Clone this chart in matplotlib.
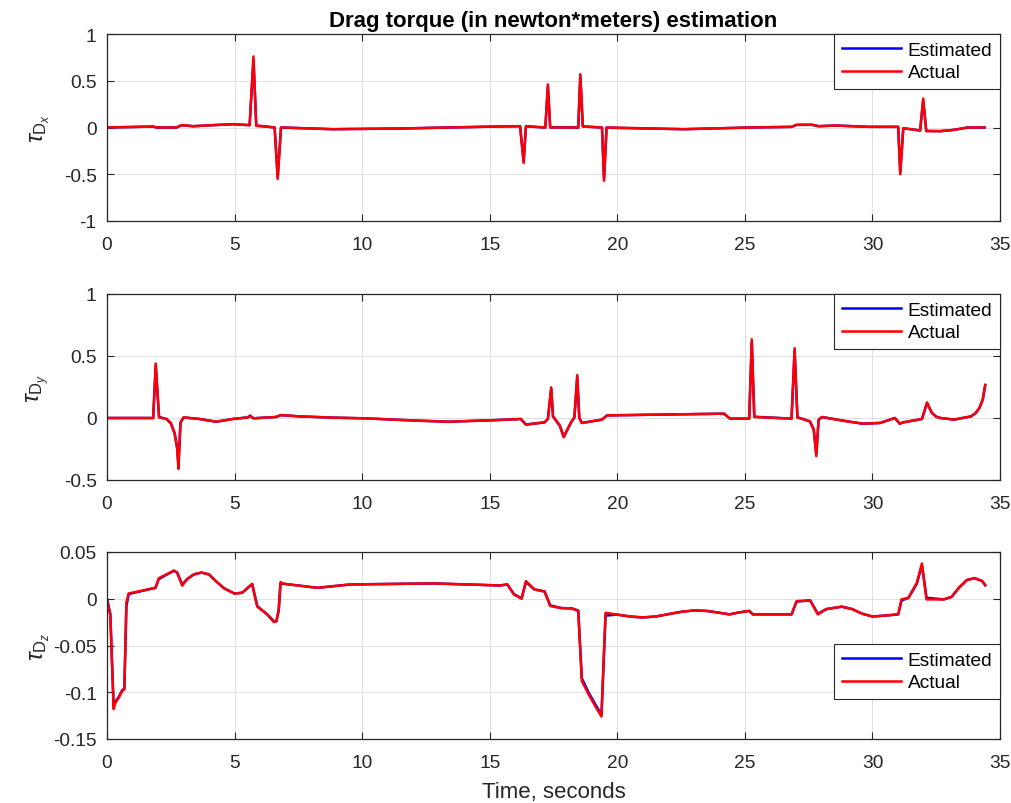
import matplotlib
matplotlib.use("Agg")
import matplotlib.pyplot as plt
from matplotlib.ticker import FuncFormatter, MultipleLocator

plt.rcParams['font.family'] = ['Liberation Sans', 'DejaVu Sans']
plt.rcParams['axes.unicode_minus'] = False
plt.rcParams['mathtext.fontset'] = 'custom'
plt.rcParams['mathtext.rm'] = 'Liberation Sans'
plt.rcParams['mathtext.it'] = 'Liberation Sans:italic'

# ---------------- data ----------------
# tau_Dx
tx = [0, 1.81, 1.94, 2.72, 2.92, 3.38, 4.15, 4.94, 5.59, 5.74, 5.85, 6.24, 6.57, 6.69, 6.82,
      8.85, 11.45, 15.35, 16.19, 16.33, 16.42, 17.18, 17.28, 17.37, 18.47, 18.55, 18.65,
      19.40, 19.48, 19.58, 22.59, 25.24, 26.83, 27.03, 27.63, 27.89, 28.55, 29.88, 31.01,
      31.09, 31.21, 31.87, 31.99, 32.11, 32.67, 33.20, 33.73, 34.39]
x_actual = [0, 0.01, 0, 0, 0.025, 0.014, 0.025, 0.036, 0.025, 0.76, 0.018, 0.01, 0, -0.55, 0,
            -0.018, -0.011, 0.011, 0.014, -0.38, 0.014, 0, 0.46, 0, 0, 0.57, 0.01,
            0, -0.57, 0, -0.018, 0, 0.007, 0.029, 0.029, 0.014, 0.021, 0.007, 0.007,
            -0.5, -0.007, -0.032, 0.31, -0.039, -0.039, -0.025, 0, 0]
x_estimated = [0, 0.01, 0, 0, 0.024, 0.014, 0.025, 0.035, 0.025, 0.72, 0.02, 0.01, 0, -0.53, 0,
               -0.018, -0.011, 0.011, 0.014, -0.36, 0.012, 0, 0.44, 0.002, 0, 0.55, 0.012,
               0, -0.55, -0.002, -0.018, 0, 0.007, 0.028, 0.029, 0.014, 0.021, 0.007, 0.007,
               -0.48, -0.008, -0.032, 0.29, -0.036, -0.039, -0.025, 0, 0]

# tau_Dy
ty = [0, 1.81, 1.91, 2.04, 2.33, 2.50, 2.65, 2.75, 2.80, 2.88, 3.00, 3.63, 4.28, 4.93, 5.52,
      5.61, 5.74, 6.62, 6.82, 7.54, 8.85, 10.16, 12.10, 13.40, 15.35, 16.22, 16.42, 17.15,
      17.28, 17.41, 17.48, 17.60, 17.75, 17.90, 18.05, 18.20, 18.32, 18.43, 18.51, 18.61,
      19.40, 19.60, 24.18, 24.42, 25.17, 25.27, 25.37, 26.83, 26.95, 27.06, 27.30, 27.55,
      27.70, 27.80, 27.89, 28.02, 28.80, 29.62, 30.30, 30.88, 31.07, 31.21, 31.94, 32.14,
      32.33, 32.50, 32.67, 33.20, 33.86, 34.05, 34.19, 34.32, 34.42]
y_actual = [0, 0, 0.44, 0.005, -0.008, -0.04, -0.12, -0.25, -0.41, -0.035, 0.005, -0.008, -0.03,
            -0.008, 0.005, 0.019, -0.003, 0.008, 0.024, 0.013, 0.003, -0.003, -0.021, -0.03,
            -0.016, -0.008, -0.054, -0.035, -0.008, 0.247, 0.013, -0.02, -0.06, -0.155, -0.09,
            -0.03, 0.005, 0.346, 0, -0.04, -0.013, 0.021, 0.035, -0.005, -0.005, 0.635, 0.008,
            -0.005, 0.563, 0.003, -0.01, -0.027, -0.09, -0.308, -0.013, 0.008, -0.02, -0.046,
            -0.04, 0, -0.046, -0.035, -0.008, 0.126, 0.04, 0.01, 0, -0.013, 0.013, 0.04, 0.08,
            0.147, 0.268]
y_estimated = [0, 0, 0.42, 0.008, -0.008, -0.042, -0.125, -0.24, -0.38, -0.04, 0.004, -0.008,
               -0.03, -0.008, 0.005, 0.018, -0.002, 0.008, 0.023, 0.013, 0.003, -0.003, -0.021,
               -0.03, -0.016, -0.008, -0.052, -0.035, -0.008, 0.235, 0.015, -0.022, -0.065,
               -0.15, -0.092, -0.032, 0.004, 0.33, 0.004, -0.04, -0.013, 0.021, 0.035, -0.005,
               -0.005, 0.61, 0.01, -0.005, 0.54, 0.006, -0.01, -0.028, -0.095, -0.29, -0.016,
               0.008, -0.02, -0.046, -0.04, 0, -0.046, -0.035, -0.008, 0.12, 0.042, 0.01, 0,
               -0.013, 0.013, 0.04, 0.08, 0.145, 0.262]

# tau_Dz
tz = [0, 0.13, 0.26, 0.33, 0.46, 0.59, 0.68, 0.76, 0.85, 1.90, 2.03, 2.62, 2.75, 2.95, 3.14,
      3.40, 3.70, 4.00, 4.30, 4.60, 5.00, 5.30, 5.69, 5.82, 5.89, 6.28, 6.54, 6.64, 6.73, 6.80,
      6.93, 8.24, 9.54, 12.80, 15.40, 15.69, 15.95, 16.25, 16.42, 16.75, 17.15, 17.37, 17.81,
      18.21, 18.47, 18.61, 18.87, 19.14, 19.38, 19.54, 20.00, 20.50, 21.00, 21.50, 22.00,
      22.50, 23.00, 23.50, 24.00, 24.40, 24.80, 25.17, 25.31, 26.83, 27.03, 27.56, 27.86,
      28.20, 28.80, 29.20, 29.60, 30.00, 30.50, 31.01, 31.14, 31.41, 31.74, 31.94, 32.12,
      32.80, 33.10, 33.40, 33.70, 34.00, 34.30, 34.42]
z_actual = [0, -0.0185, -0.118, -0.111, -0.106, -0.099, -0.097, -0.004, 0.0057, 0.0117, 0.022,
            0.030, 0.028, 0.014, 0.021, 0.026, 0.028, 0.026, 0.018, 0.011, 0.0055, 0.0065,
            0.016, -0.0007, -0.0085, -0.0167, -0.025, -0.024, -0.011, 0.0178, 0.016, 0.0117,
            0.0153, 0.0164, 0.0142, 0.0153, 0.0046, 0, 0.0189, 0.010, 0.0078, -0.0078, -0.010,
            -0.0103, -0.0132, -0.088, -0.102, -0.115, -0.126, -0.015, -0.017, -0.019, -0.020,
            -0.019, -0.0165, -0.014, -0.0125, -0.013, -0.015, -0.0167, -0.0145, -0.013,
            -0.0167, -0.0167, -0.0025, -0.0018, -0.0167, -0.011, -0.0085, -0.011, -0.016,
            -0.019, -0.018, -0.0167, -0.0007, 0.001, 0.017, 0.0377, -0.0007, -0.0007, 0.002,
            0.012, 0.020, 0.022, 0.019, 0.0145]
z_estimated = [0, -0.016, -0.115, -0.110, -0.105, -0.098, -0.096, -0.008, 0.005, 0.0117, 0.021,
               0.030, 0.028, 0.015, 0.021, 0.026, 0.028, 0.026, 0.018, 0.011, 0.0055, 0.0065,
               0.0155, 0.0005, -0.008, -0.0167, -0.024, -0.024, -0.013, 0.016, 0.016, 0.0117,
               0.0153, 0.0164, 0.0142, 0.0153, 0.005, 0.0005, 0.018, 0.010, 0.0078, -0.007,
               -0.010, -0.0103, -0.0125, -0.085, -0.100, -0.113, -0.124, -0.018, -0.017,
               -0.019, -0.020, -0.019, -0.0165, -0.014, -0.0125, -0.013, -0.015, -0.0167,
               -0.0145, -0.013, -0.0167, -0.0167, -0.003, -0.0018, -0.016, -0.011, -0.0085,
               -0.011, -0.016, -0.019, -0.018, -0.0167, -0.002, 0.001, 0.016, 0.036, 0.001,
               -0.0007, 0.002, 0.012, 0.020, 0.022, 0.019, 0.0145]

series_labels = ['Estimated', 'Actual']
ylabels = [r'$\tau_{\mathrm{D}_x}$', r'$\tau_{\mathrm{D}_y}$', r'$\tau_{\mathrm{D}_z}$']
title = 'Drag torque (in newton*meters) estimation'
xlabel = 'Time, seconds'

assert len(tx) == len(x_actual) == len(x_estimated)
assert len(ty) == len(y_actual) == len(y_estimated)
assert len(tz) == len(z_actual) == len(z_estimated)

# ---------------- plot ----------------
W, H = 1012, 804
fig = plt.figure(figsize=(W / 100, H / 100), dpi=100)

def rect(top, bottom, left=107, right=1000):
    return [left / W, 1 - bottom / H, (right - left) / W, (bottom - top) / H]

axes = [fig.add_axes(rect(35, 222)), fig.add_axes(rect(295, 481)), fig.add_axes(rect(553, 740))]
data = [(tx, x_estimated, x_actual), (ty, y_estimated, y_actual), (tz, z_estimated, z_actual)]
ylims = [(-1, 1), (-0.5, 1), (-0.15, 0.05)]
ysteps = [0.5, 0.5, 0.05]
spine_c = '#262626'
FS = 13.8

for i, ax in enumerate(axes):
    t, est, act = data[i]
    ax.plot(t, est, color='#0000ff', lw=1.8, label=series_labels[0])
    ax.plot(t, act, color='#ff0000', lw=1.8, label=series_labels[1])
    ax.set_xlim(0, 35)
    ax.set_ylim(*ylims[i])
    ax.xaxis.set_major_locator(MultipleLocator(5))
    ax.yaxis.set_major_locator(MultipleLocator(ysteps[i]))
    fmt = FuncFormatter(lambda v, p: f'{round(v, 6):g}')
    ax.xaxis.set_major_formatter(fmt)
    ax.yaxis.set_major_formatter(fmt)
    ax.grid(True, color='#e0e0e0', lw=0.7)
    ax.set_axisbelow(True)
    ax.tick_params(direction='in', length=5, width=0.8, top=True, right=True,
                   labelsize=FS, colors=spine_c)
    ax.tick_params(axis='x', pad=10.5)
    ax.tick_params(axis='y', pad=7.5)
    for s in ax.spines.values():
        s.set_color(spine_c)
        s.set_linewidth(0.9)
    ax.set_ylabel(ylabels[i], fontsize=17, color=spine_c)
    ax.yaxis.set_label_coords(-0.062, 0.5)
    common = dict(fontsize=FS, fancybox=False, edgecolor=spine_c, framealpha=1,
                  borderaxespad=0, handlelength=3.1, handletextpad=0.35,
                  borderpad=0.4, labelspacing=0.25)
    if i == 2:
        leg = ax.legend(loc='lower right', bbox_to_anchor=(1.0, 0.214), **common)
    else:
        leg = ax.legend(loc='upper right', **common)
    leg.get_frame().set_linewidth(0.8)

axes[0].set_title(title, fontsize=16, fontweight='bold', pad=5.5)
axes[2].set_xlabel(xlabel, fontsize=16, color=spine_c, labelpad=7.5)

fig.savefig('out.png', dpi=100)
